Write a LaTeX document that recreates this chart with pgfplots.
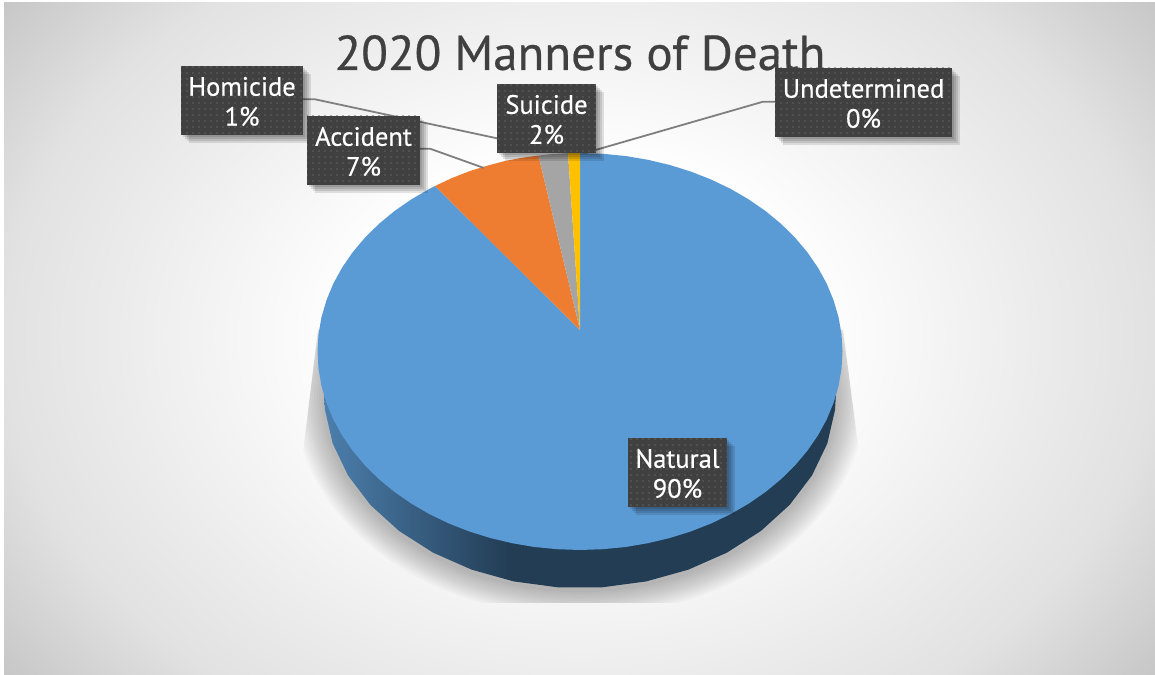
\documentclass[border=0pt]{standalone}
\usepackage{fontspec}
\setmainfont{PT Sans}
\newfontfamily\heavyfont{PT Sans}[FakeBold=0.45]
\usepackage{pgfplots}
\pgfplotsset{compat=1.18}
\usetikzlibrary{patterns.meta}
\definecolor{natural}{HTML}{5B9BD5}
\definecolor{accident}{HTML}{EF7D31}
\definecolor{suicide}{HTML}{A5A5A5}
\definecolor{homicide}{HTML}{FFC000}
\definecolor{ink}{HTML}{404040}
\definecolor{dotc}{HTML}{626262}
\definecolor{leader}{HTML}{7F7F7F}
\definecolor{sideA}{HTML}{4C7FAD}
\definecolor{sideB}{HTML}{233D55}
\definecolor{bgA}{gray}{1}
\definecolor{bgB}{gray}{0.885}
\definecolor{bgC}{gray}{0.78}
\pgfdeclareradialshading{bgshade}{\pgfpoint{0bp}{0bp}}{color(0bp)=(bgA); color(10bp)=(bgA); color(25bp)=(bgB); color(31.6bp)=(bgC); color(100bp)=(bgC)}
\pgfdeclarehorizontalshading{sideshade}{100bp}{color(0bp)=(sideA); color(25bp)=(sideA); color(43bp)=(sideB); color(100bp)=(sideB)}

% label box in reference pixels: x0,y0,x1,y1,text
\newcommand{\boxshadow}[5]{\fill[black,opacity=0.11] (axis cs:#1+#5,#2+#5) rectangle (axis cs:#3+#5,#4+#5);}
\newcommand{\labelbox}[5]{%
  \boxshadow{#1}{#2}{#3}{#4}{8}
  \boxshadow{#1}{#2}{#3}{#4}{6}
  \boxshadow{#1}{#2}{#3}{#4}{4}
  \boxshadow{#1}{#2}{#3}{#4}{2}
  \fill[ink] (axis cs:#1,#2) rectangle (axis cs:#3,#4);
  \fill[pattern={Dots[distance=6pt,radius=0.8pt,xshift=1pt,yshift=1pt]},pattern color=dotc] (axis cs:#1,#2) rectangle (axis cs:#3,#4);
  \node[white,align=center,inner sep=0pt,font=\heavyfont\fontsize{26.5}{30}\selectfont] at (axis cs:{(#1+#3)/2},{(#2+#4)/2+1}) {#5};
}

\begin{document}
\begin{tikzpicture}
\fill[white] (0,0) rectangle (1155pt,674pt);
\begin{scope}
\clip (4pt,0pt) rectangle (1155pt,671pt);
\shade[shading=bgshade] (4pt,-98.5pt) rectangle (1155pt,772.5pt);
\end{scope}
% soft shadow under the pie
\begin{scope}
\clip (318pt,344pt) -- (302pt,214pt) -- (302pt,71pt) -- (860pt,71pt) -- (860pt,214pt) -- (843pt,344pt) -- cycle;
\foreach \i in {1,...,12}{
  \fill[black,opacity=0.024] (580pt,279pt) ellipse ({256pt+2.5pt*\i} and {195pt+2.2pt*\i});
}
\end{scope}

\begin{axis}[
  at={(0,0)},anchor=south west,
  scale only axis,width=1155pt,height=674pt,
  xmin=0,xmax=1155,ymin=0,ymax=674,y dir=reverse,
  hide axis,clip=false,
]
% pie side
\addplot[draw=none,shading=sideshade] coordinates {
  (836,360) (836,393) (835,410) (827.3,443.5) (812,475.4) (789.7,504.8) (761,530.9)
  (726.8,552.7) (688.2,569.7) (646.3,581.4) (602.3,587.3) (557.7,587.3) (513.7,581.4)
  (471.8,569.7) (433.2,552.7) (399,530.9) (370.3,504.8) (348,475.4) (332.7,443.5)
  (325,410) (324,393) (324,360)
} -- cycle;
% Natural 90%
\addplot[draw=none,fill=natural] coordinates {
  (580,330) (580,153) (602.9,153.8) (625.6,156) (647.9,159.8) (669.8,165) (690.9,171.6)
  (711.3,179.6) (730.6,188.9) (748.7,199.4) (765.6,211.1) (781.1,223.9) (795,237.6)
  (807.3,252.2) (817.9,267.6) (826.7,283.6) (833.5,300.1) (838.5,317) (841.5,334.2)
  (842.5,351.5) (841.5,368.8) (838.5,386) (833.5,402.9) (826.7,419.4) (817.9,435.4)
  (807.3,450.8) (795,465.4) (781.1,479.1) (765.6,491.9) (748.7,503.6) (730.6,514.1)
  (711.3,523.4) (690.9,531.4) (669.8,538) (647.9,543.2) (625.6,547) (602.9,549.2)
  (580,550) (557.1,549.2) (534.4,547) (512.1,543.2) (490.2,538) (469.1,531.4)
  (448.7,523.4) (429.4,514.1) (411.3,503.6) (394.4,491.9) (378.9,479.1) (365,465.4)
  (352.7,450.8) (342.1,435.4) (333.3,419.4) (326.5,402.9) (321.5,386) (318.5,368.8)
  (317.5,351.5) (318.5,334.2) (321.5,317) (326.5,300.1) (333.3,283.6) (342.1,267.6)
  (352.7,252.2) (365,237.6) (378.9,223.9) (394.4,211.1) (411.3,199.4) (429.4,188.9)
  (435,186)
} -- cycle;
% Accident 7%
\addplot[draw=none,fill=accident] coordinates {
  (580,330) (435,186) (452,178) (470,171) (488,165.5) (505,161) (522,157.8) (538.5,155.5)
} -- cycle;
% Suicide 2%
\addplot[draw=none,fill=suicide] coordinates {
  (580,330) (538.5,155.5) (553,154) (568,153.2)
} -- cycle;
% Homicide 1%
\addplot[draw=none,fill=homicide] coordinates {
  (580,330) (568,153.2) (580,153)
} -- cycle;
% leader lines
\addplot[leader,line width=1.8pt] coordinates {(303,99.3) (315,99.3) (497,138.3)};
\addplot[leader,line width=1.8pt] coordinates {(420,148.7) (430,148.7) (484,168)};
\addplot[leader,line width=1.8pt] coordinates {(775,101.7) (763,101.7) (585,153)};
\node[ink,anchor=base,inner sep=0pt,font=\heavyfont\fontsize{49}{58}\selectfont] at (axis cs:580,70) {2020 Manners of Death};
\labelbox{181}{66}{303}{135}{Homicide\\1\%}
\labelbox{307}{116}{420}{185}{Accident\\7\%}
\labelbox{497}{84}{596}{153}{Suicide\\2\%}
\labelbox{775}{68}{952}{137}{Undetermined\\0\%}
\labelbox{628}{438}{727}{507}{Natural\\90\%}
\end{axis}
\end{tikzpicture}
\end{document}
